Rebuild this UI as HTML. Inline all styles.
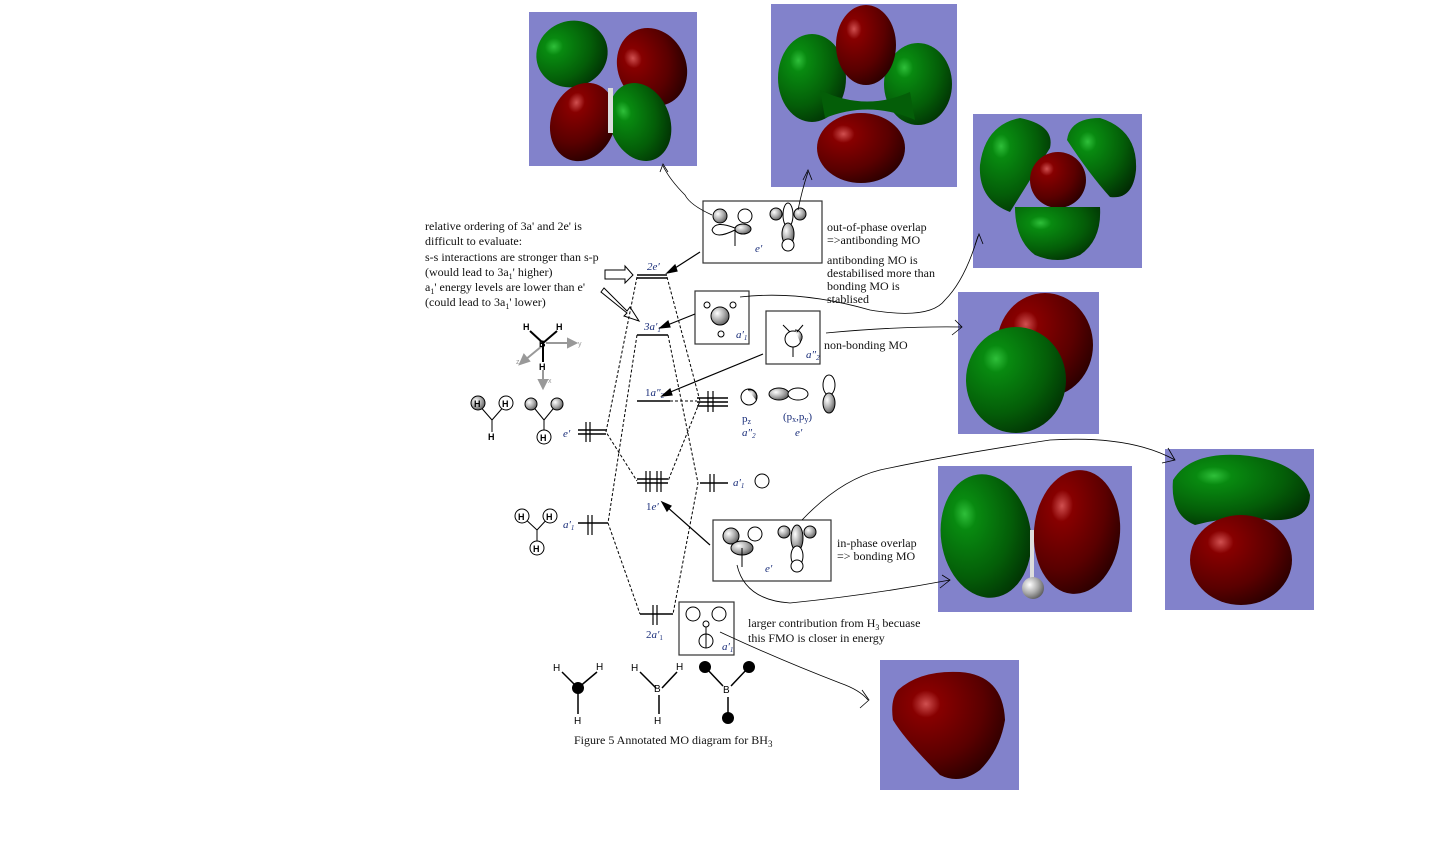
<!DOCTYPE html>
<html><head><meta charset="utf-8"><style>
html,body{margin:0;padding:0;background:#fff;}
svg{display:block;font-family:"Liberation Serif",serif;}
.t{font-size:12px;fill:#111;}
.b{fill:#1a2e7a;font-style:italic;font-size:11px;}
.s{font-family:"Liberation Sans",sans-serif;font-size:9px;font-weight:bold;}
</style></head><body>
<svg width="1438" height="853" viewBox="0 0 1438 853" xmlns="http://www.w3.org/2000/svg">
<defs>
<radialGradient id="g" cx="0.3" cy="0.3" r="0.85"><stop offset="0" stop-color="#2fbf3a"/><stop offset="0.15" stop-color="#088a10"/><stop offset="0.6" stop-color="#045e08"/><stop offset="1" stop-color="#012a03"/></radialGradient>
<radialGradient id="r" cx="0.3" cy="0.3" r="0.85"><stop offset="0" stop-color="#d05050"/><stop offset="0.15" stop-color="#870000"/><stop offset="0.6" stop-color="#5a0000"/><stop offset="1" stop-color="#200000"/></radialGradient>
<radialGradient id="gy" cx="0.35" cy="0.35" r="0.8"><stop offset="0" stop-color="#fff"/><stop offset="0.5" stop-color="#aaa"/><stop offset="1" stop-color="#444"/></radialGradient>
</defs>
<g fill="#8282cb">
<rect x="529" y="12" width="168" height="154"/>
<rect x="771" y="4" width="186" height="183"/>
<rect x="973" y="114" width="169" height="154"/>
<rect x="958" y="292" width="141" height="142"/>
<rect x="938" y="466" width="194" height="146"/>
<rect x="1165" y="449" width="149" height="161"/>
<rect x="880" y="660" width="139" height="130"/>
</g>
<!-- panel1 -->
<ellipse cx="572" cy="54" rx="36" ry="33" fill="url(#g)" transform="rotate(-20 572 54)"/>
<ellipse cx="652" cy="67" rx="34" ry="40" fill="url(#r)" transform="rotate(-25 652 67)"/>
<ellipse cx="583" cy="122" rx="32" ry="40" fill="url(#r)" transform="rotate(20 583 122)"/>
<ellipse cx="640" cy="122" rx="30" ry="40" fill="url(#g)" transform="rotate(-20 640 122)"/>
<rect x="608" y="88" width="5" height="45" fill="#ddd"/>
<!-- panel2 -->
<ellipse cx="812" cy="78" rx="34" ry="44" fill="url(#g)"/>
<ellipse cx="918" cy="84" rx="34" ry="41" fill="url(#g)"/>
<path d="M820 90 Q865 112 910 92 L915 120 Q870 100 825 118Z" fill="#045e08"/>
<ellipse cx="866" cy="45" rx="30" ry="40" fill="url(#r)"/>
<ellipse cx="861" cy="148" rx="44" ry="35" fill="url(#r)"/>
<!-- panel3 -->
<path d="M1020 118 Q1055 125 1050 148 Q1030 180 1010 212 Q978 200 980 165 Q985 125 1020 118Z" fill="url(#g)"/>
<path d="M1100 118 Q1138 130 1136 170 Q1133 200 1110 197 Q1090 175 1067 140 Q1070 118 1100 118Z" fill="url(#g)"/>
<ellipse cx="1058" cy="180" rx="28" ry="28" fill="url(#r)"/>
<path d="M1015 207 L1100 207 Q1102 240 1080 255 Q1058 265 1035 255 Q1015 240 1015 207Z" fill="url(#g)"/>
<!-- panel4 -->
<ellipse cx="1045" cy="345" rx="48" ry="52" fill="url(#r)"/>
<ellipse cx="1016" cy="380" rx="50" ry="53" fill="url(#g)"/>
<!-- panel5 -->
<ellipse cx="986" cy="536" rx="45" ry="62" fill="url(#g)" transform="rotate(-8 986 536)"/>
<ellipse cx="1077" cy="532" rx="43" ry="62" fill="url(#r)" transform="rotate(5 1077 532)"/>
<rect x="1030" y="530" width="4" height="50" fill="#ddd"/>
<circle cx="1033" cy="588" r="11" fill="url(#gy)"/>
<!-- panel6 -->
<path d="M1173 480 Q1190 452 1240 455 Q1300 460 1310 495 Q1310 522 1270 520 Q1230 515 1195 525 Q1170 515 1173 480Z" fill="url(#g)"/>
<ellipse cx="1241" cy="560" rx="51" ry="45" fill="url(#r)"/>
<!-- panel7 -->
<path d="M898 690 Q920 670 960 672 Q1003 675 1005 720 Q1000 750 980 770 Q960 785 940 775 Q905 740 893 720 Q890 700 898 690Z" fill="url(#r)"/>

<!-- text left -->
<text class="t" x="425" y="230">relative ordering of 3a' and 2e' is</text>
<text class="t" x="425" y="245">difficult to evaluate:</text>
<text class="t" x="425" y="261">s-s interactions are stronger than s-p</text>
<text class="t" x="425" y="276">(would lead to 3a<tspan font-size="8" dy="3">1</tspan><tspan dy="-3">' higher)</tspan></text>
<text class="t" x="425" y="291">a<tspan font-size="8" dy="3">1</tspan><tspan dy="-3">' energy levels are lower than e'</tspan></text>
<text class="t" x="425" y="306">(could lead to 3a<tspan font-size="8" dy="3">1</tspan><tspan dy="-3">' lower)</tspan></text>
<!-- hollow arrows -->
<path d="M605 270 L625 270 L625 266 L633 275 L625 283 L625 279 L605 279Z" fill="#fff" stroke="#000"/>
<path d="M604 288 L627 311 L630 307 L639 321 L624 316 L627 313 L601 292Z" fill="#fff" stroke="#000"/>

<!-- right annotations -->
<text class="t" x="827" y="231">out-of-phase overlap</text>
<text class="t" x="827" y="244">=&gt;antibonding MO</text>
<text class="t" x="827" y="264">antibonding MO is</text>
<text class="t" x="827" y="277">destabilised more than</text>
<text class="t" x="827" y="290">bonding MO is</text>
<text class="t" x="827" y="303">stablised</text>
<text class="t" x="824" y="349">non-bonding MO</text>
<text class="t" x="837" y="547">in-phase overlap</text>
<text class="t" x="837" y="560">=&gt; bonding MO</text>
<text class="t" x="748" y="627">larger contribution from H<tspan font-size="8" dy="3">3</tspan><tspan dy="-3"> becuase</tspan></text>
<text class="t" x="748" y="642">this FMO is closer in energy</text>
<text class="t" x="574" y="744" font-size="13">Figure 5 Annotated MO diagram for BH<tspan font-size="9" dy="3">3</tspan></text>

<!-- boxes -->
<g fill="none" stroke="#333" stroke-width="1.2">
<rect x="703" y="201" width="119" height="62"/>
<rect x="695" y="291" width="54" height="53"/>
<rect x="766" y="311" width="54" height="53"/>
<rect x="713" y="520" width="118" height="61"/>
<rect x="679" y="602" width="55" height="53"/>
</g>
<g stroke="#000" stroke-width="1" fill="#fff">
<circle cx="745" cy="216" r="7"/><circle cx="720" cy="216" r="7" fill="url(#gy)"/>
<path d="M735 228 Q715 220 712 230 Q715 240 735 230Z"/><ellipse cx="743" cy="229" rx="8" ry="5" fill="url(#gy)"/>
<line x1="735" y1="229" x2="735" y2="246"/>
<circle cx="776" cy="214" r="6" fill="url(#gy)"/><circle cx="800" cy="214" r="6" fill="url(#gy)"/>
<ellipse cx="788" cy="215" rx="5" ry="12"/><ellipse cx="788" cy="234" rx="6" ry="11" fill="url(#gy)"/><circle cx="788" cy="245" r="6"/>
<circle cx="720" cy="316" r="9" fill="url(#gy)"/><circle cx="707" cy="305" r="3"/><circle cx="733" cy="305" r="3"/><circle cx="721" cy="334" r="3"/>
<circle cx="793" cy="339" r="8"/><path d="M795 330 A7 7 0 0 1 800 342" fill="url(#gy)"/><line x1="793" y1="347" x2="793" y2="357"/>
<line x1="783" y1="325" x2="790" y2="332"/><line x1="803" y1="325" x2="797" y2="332"/>
<circle cx="749" cy="397" r="8"/><path d="M748 390 A7 7 0 0 1 756 400" fill="url(#gy)"/>
<ellipse cx="779" cy="394" rx="10" ry="6" fill="url(#gy)"/><ellipse cx="798" cy="394" rx="10" ry="6"/>
<ellipse cx="829" cy="385" rx="6" ry="10"/><ellipse cx="829" cy="403" rx="6" ry="10" fill="url(#gy)"/>
<circle cx="762" cy="481" r="7"/>
<circle cx="731" cy="536" r="8" fill="url(#gy)"/><circle cx="755" cy="534" r="7"/>
<ellipse cx="742" cy="548" rx="11" ry="7" fill="url(#gy)"/><line x1="742" y1="548" x2="742" y2="567"/>
<circle cx="784" cy="532" r="6" fill="url(#gy)"/><circle cx="810" cy="532" r="6" fill="url(#gy)"/>
<ellipse cx="797" cy="538" rx="6" ry="13" fill="url(#gy)"/><ellipse cx="797" cy="556" rx="6" ry="10"/><circle cx="797" cy="566" r="6"/>
<circle cx="693" cy="614" r="7"/><circle cx="719" cy="614" r="7"/><circle cx="706" cy="624" r="3"/><circle cx="706" cy="641" r="7"/>
<line x1="706" y1="627" x2="706" y2="648"/>
</g>
<g class="b"><text x="755" y="252">e′</text><text x="736" y="338">a′<tspan font-size="7" dy="2">1</tspan></text><text x="806" y="358">a″<tspan font-size="7" dy="2">2</tspan></text>
<text x="765" y="572">e′</text><text x="722" y="650">a′<tspan font-size="7" dy="2">1</tspan></text>
<text x="742" y="422" font-style="normal">p<tspan font-size="8" dy="2">z</tspan></text><text x="742" y="436">a″<tspan font-size="7" dy="2">2</tspan></text>
<text x="783" y="420" font-style="normal">(p<tspan font-size="8" dy="2">x</tspan><tspan dy="-2">,p</tspan><tspan font-size="8" dy="2">y</tspan><tspan dy="-2">)</tspan></text><text x="795" y="436">e′</text>
<text x="733" y="486">a′<tspan font-size="7" dy="2">1</tspan></text>
<text x="563" y="437">e′</text><text x="563" y="528">a′<tspan font-size="7" dy="2">1</tspan></text>
<text x="647" y="270">2e′</text><text x="644" y="330">3a′<tspan font-size="7" dy="2">1</tspan></text>
<text x="645" y="396" font-style="normal">1<tspan font-style="italic">a″</tspan><tspan font-size="7" dy="2">2</tspan></text>
<text x="646" y="510" font-style="normal">1<tspan font-style="italic">e′</tspan></text>
<text x="646" y="638" font-style="normal">2<tspan font-style="italic">a′</tspan><tspan font-size="7" dy="2">1</tspan></text></g>

<g stroke="#000" stroke-width="1.6">
<line x1="637" y1="275" x2="667" y2="275"/><line x1="637" y1="278" x2="667" y2="278"/>
<line x1="637" y1="335" x2="668" y2="335"/>
<line x1="637" y1="401" x2="670" y2="401"/>
<line x1="697" y1="398" x2="728" y2="398"/><line x1="697" y1="402" x2="728" y2="402"/><line x1="697" y1="406" x2="728" y2="406"/>
<line x1="700" y1="483" x2="728" y2="483"/>
<line x1="578" y1="430" x2="606" y2="430"/><line x1="578" y1="434" x2="606" y2="434"/>
<line x1="578" y1="523" x2="608" y2="523"/>
<line x1="637" y1="479" x2="668" y2="479"/><line x1="637" y1="483" x2="668" y2="483"/>
<line x1="640" y1="614" x2="673" y2="614"/>
</g>
<g stroke="#000" stroke-width="1.2">
<line x1="708" y1="391" x2="708" y2="412"/><line x1="713" y1="391" x2="713" y2="412"/>
<line x1="586" y1="422" x2="586" y2="442"/><line x1="590" y1="422" x2="590" y2="442"/>
<line x1="588" y1="515" x2="588" y2="535"/><line x1="592" y1="515" x2="592" y2="535"/>
<line x1="646" y1="471" x2="646" y2="492"/><line x1="650" y1="471" x2="650" y2="492"/><line x1="657" y1="471" x2="657" y2="492"/><line x1="661" y1="471" x2="661" y2="492"/>
<line x1="653" y1="605" x2="653" y2="625"/><line x1="657" y1="605" x2="657" y2="625"/>
<line x1="710" y1="474" x2="710" y2="492"/><line x1="714" y1="474" x2="714" y2="492"/>
</g>
<g stroke="#000" stroke-width="1" fill="none" stroke-dasharray="3,2">
<polyline points="637,277 606,432 637,481"/>
<polyline points="637,335 608,523 640,614"/>
<polyline points="667,277 700,401 668,481"/>
<polyline points="668,335 698,483 673,614"/>
<line x1="670" y1="401" x2="697" y2="401"/>
</g>
<g stroke="#000" stroke-width="1.2" fill="#000">
<line x1="700" y1="252" x2="672" y2="270"/><path d="M667 273 L675 265 L677 271Z"/>
<line x1="695" y1="314" x2="665" y2="326"/><path d="M660 328 L668 321 L670 327Z"/>
<line x1="763" y1="354" x2="668" y2="393"/><path d="M662 396 L670 389 L672 395Z"/>
<line x1="710" y1="545" x2="666" y2="506"/><path d="M662 502 L671 506 L667 511Z"/>
</g>
<g stroke="#000" stroke-width="0.8" fill="none">
<path d="M712 215 Q690 205 685 195 Q670 180 663 166"/><path d="M660 172 L663 164 L668 172"/>
<path d="M798 210 Q802 190 808 172"/><path d="M803 180 L808 170 L812 180"/>
<path d="M740 297 Q800 290 870 310 Q930 320 945 300 Q965 280 978 236"/><path d="M975 245 L979 234 L983 244"/>
<path d="M826 333 Q900 326 962 327"/><path d="M955 320 L962 327 L952 335"/>
<path d="M802 520 Q840 480 880 470 Q950 455 1050 440 Q1130 435 1175 460"/><path d="M1168 448 L1175 460 L1162 463"/>
<path d="M737 565 Q745 600 790 603 Q870 595 950 580"/><path d="M942 575 L950 580 L940 588"/>
<path d="M720 632 Q780 660 840 683 Q860 690 868 700"/><path d="M862 690 L869 700 L860 708"/>
</g>
<g stroke="#000" stroke-width="1" fill="#fff">
<line x1="478" y1="404" x2="492" y2="420"/><line x1="506" y1="404" x2="492" y2="420"/><line x1="492" y1="420" x2="492" y2="432"/>
<circle cx="478" cy="403" r="7" fill="url(#gy)"/><circle cx="506" cy="403" r="7"/>
<line x1="531" y1="404" x2="544" y2="420"/><line x1="557" y1="404" x2="544" y2="420"/><line x1="544" y1="420" x2="544" y2="432"/>
<circle cx="531" cy="404" r="6" fill="url(#gy)"/><circle cx="557" cy="404" r="6" fill="url(#gy)"/><circle cx="544" cy="437" r="7"/>
<line x1="522" y1="516" x2="537" y2="530"/><line x1="550" y1="516" x2="537" y2="530"/><line x1="537" y1="530" x2="537" y2="546"/>
<circle cx="522" cy="516" r="7"/><circle cx="550" cy="516" r="7"/><circle cx="537" cy="548" r="7"/>
</g>
<g class="s" fill="#000"><text x="474" y="407">H</text><text x="502" y="407">H</text><text x="488" y="440">H</text><text x="540" y="441">H</text>
<text x="518" y="520">H</text><text x="546" y="520">H</text><text x="533" y="552">H</text></g>
<g stroke="#000" stroke-width="2"><line x1="530" y1="331" x2="543" y2="343"/><line x1="557" y1="331" x2="543" y2="343"/><line x1="543" y1="343" x2="543" y2="362"/></g>
<g stroke="#999" stroke-width="2" fill="#999"><line x1="546" y1="343" x2="570" y2="343"/><path d="M576 343 L568 339 L568 347Z"/>
<line x1="542" y1="346" x2="525" y2="360"/><path d="M520 364 L524 355 L529 361Z"/><line x1="543" y1="370" x2="543" y2="382"/><path d="M543 388 L539 380 L547 380Z"/></g>
<g class="s" fill="#000"><text x="523" y="330">H</text><text x="556" y="330">H</text><text x="539" y="347">B</text><text x="539" y="370">H</text></g>
<g font-family="Liberation Sans" font-size="7" fill="#999"><text x="578" y="346">y</text><text x="516" y="364">z</text><text x="548" y="383">x</text></g>
<g stroke="#000" stroke-width="1.5"><line x1="562" y1="672" x2="578" y2="688"/><line x1="597" y1="672" x2="578" y2="688"/><line x1="578" y1="688" x2="578" y2="714"/>
<line x1="640" y1="672" x2="656" y2="688"/><line x1="677" y1="672" x2="662" y2="688"/><line x1="659" y1="695" x2="659" y2="714"/>
<line x1="706" y1="668" x2="723" y2="686"/><line x1="748" y1="668" x2="731" y2="686"/><line x1="728" y1="697" x2="728" y2="716"/></g>
<circle cx="578" cy="688" r="6"/><circle cx="705" cy="667" r="6"/><circle cx="749" cy="667" r="6"/><circle cx="728" cy="718" r="6"/>
<g font-family="Liberation Sans" font-size="10" fill="#000"><text x="553" y="671">H</text><text x="596" y="670">H</text><text x="574" y="724">H</text>
<text x="631" y="671">H</text><text x="676" y="670">H</text><text x="654" y="692">B</text><text x="654" y="724">H</text><text x="723" y="693">B</text></g>
</svg>
</body></html>
